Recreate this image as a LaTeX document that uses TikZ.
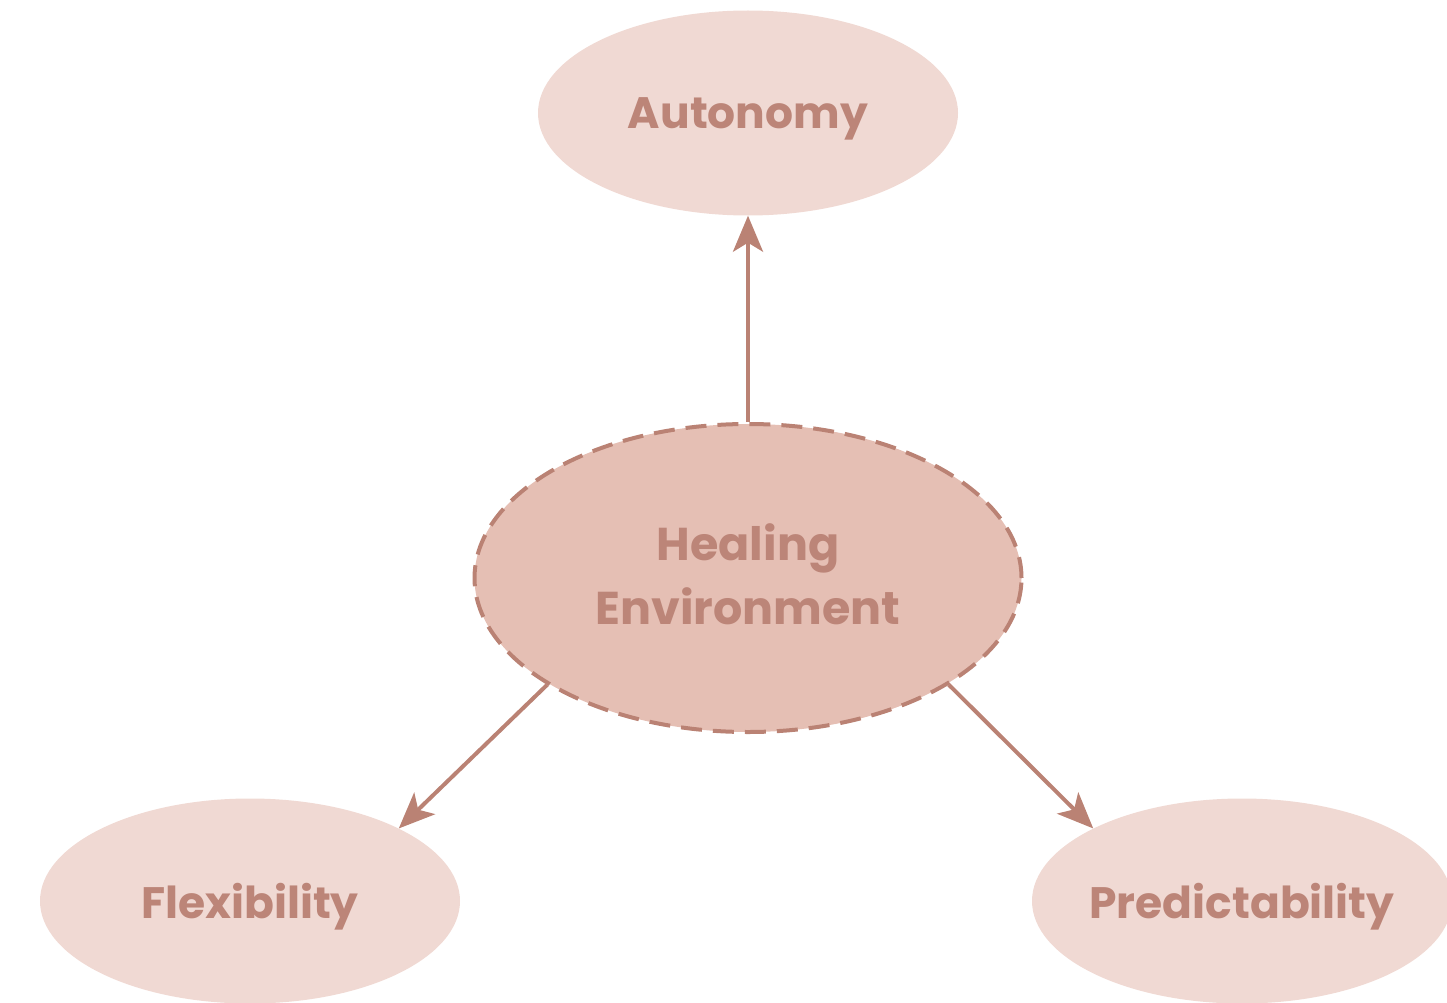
\documentclass[tikz,border=0pt]{standalone}
\usepackage{fontspec}
\setmainfont{Poppins}
\usetikzlibrary{arrows.meta}
\usetikzlibrary{shapes.geometric}
\definecolor{rosetext}{HTML}{BC8578}
\definecolor{roseline}{HTML}{BA8274}
\definecolor{palerose}{HTML}{F0D9D3}
\definecolor{midrose}{HTML}{E5BFB4}

\begin{document}
\begin{tikzpicture}
    [x=1pt,y=-1pt,
outernode/.style={ellipse, fill=palerose, minimum width=420pt, minimum height=205pt, inner ysep=0pt, inner xsep=-15pt, text depth=0pt, text=rosetext, font=\fontsize{44}{64}\selectfont\bfseries},
centernode/.style={ellipse, draw=roseline, fill=midrose, line width=4pt, dash pattern=on 21pt off 11pt, minimum width=547pt, minimum height=308pt, inner sep=0pt, text depth=8pt, align=center, text=rosetext, font=\fontsize{46}{64}\selectfont\bfseries}
]
\useasboundingbox (0,0) rectangle (1447,1003);
\clip (0,0) rectangle (1447,1003);

\node[outernode](auto) at (748,113){Autonomy};
\node[centernode](heal) at (748,578){Healing\\Environment};
\node[outernode](flex) at (250,901){Flexibility};
\node[outernode](pred) at (1242,901){Predictability};

\draw[roseline, line width=4pt, -{Stealth[length=36pt,width=30pt,inset=9pt]}] (heal) -- (auto);
\draw[roseline, line width=4pt, -{Stealth[length=36pt,width=30pt,inset=9pt]}] (heal.208) -- (flex.26);
\draw[roseline, line width=4pt, -{Stealth[length=36pt,width=30pt,inset=9pt]}] (heal.332) -- (pred.154);
\end{tikzpicture}
\end{document}
